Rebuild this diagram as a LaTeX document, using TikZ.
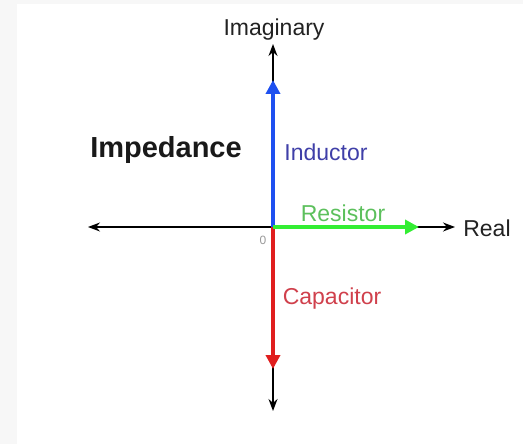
\documentclass[tikz,border=0pt]{standalone}
\usepackage{fontspec}
\setmainfont{Liberation Sans}
\usetikzlibrary{arrows.meta}
\definecolor{bgstrip}{HTML}{F7F7F7}
\definecolor{indblue}{HTML}{1E50F0}
\definecolor{resgreen}{HTML}{33EE33}
\definecolor{capred}{HTML}{E01E1E}
\definecolor{indtext}{HTML}{3F3FA8}
\definecolor{restext}{HTML}{5CC05C}
\definecolor{captext}{HTML}{D0404C}
\definecolor{axtext}{HTML}{222222}
\tikzset{
  axisarrow/.style={draw=black, line width=1.5pt, -{Stealth[length=12pt,width=9pt]}},
  phasor/.style={line width=4pt, -{Triangle[length=14pt,width=14pt]}},
  lbl/.style={font=\fontsize{23}{26}\selectfont, inner sep=0pt, anchor=center},
}
\begin{document}
\begin{tikzpicture}[x=1pt,y=-1pt]
\fill[bgstrip] (0,0) rectangle (523,444);
\fill[white] (17,4) rectangle (523,444);
\useasboundingbox (0,0) rectangle (523,444);
\coordinate (O) at (273,227);
\coordinate (top) at (273,44);
\coordinate (bot) at (273,411);
\coordinate (lft) at (88,227);
\coordinate (rgt) at (455,227);
\coordinate (indtip) at (273,80);
\coordinate (restip) at (419,227);
\coordinate (captip) at (273,369);
\draw[axisarrow] (O) -- (top);
\draw[axisarrow] (O) -- (bot);
\draw[axisarrow] (O) -- (lft);
\draw[axisarrow] (O) -- (rgt);
\draw[phasor, draw=indblue, fill=indblue] (O) -- (indtip);
\draw[phasor, draw=capred, fill=capred] (O) -- (captip);
\draw[phasor, draw=resgreen, fill=resgreen] (O) -- (restip);
\node[lbl, text=axtext] (imag) at (274,30) {Imaginary};
\node[lbl, text=axtext] (real) at (487,228) {Real};
\node[lbl, text=indtext] (ind) at (326,152) {Inductor};
\node[lbl, text=restext] (res) at (343,213) {Resistor};
\node[lbl, text=captext] (cap) at (332,299) {Capacitor};
\node[inner sep=0pt, text=gray!80, font=\fontsize{12}{14}\selectfont] (zero) at (263,240) {0};
\node[inner sep=0pt, font=\fontsize{29}{32}\selectfont\bfseries, text=black!90] (imp) at (166,150) {Impedance};
\end{tikzpicture}
\end{document}
